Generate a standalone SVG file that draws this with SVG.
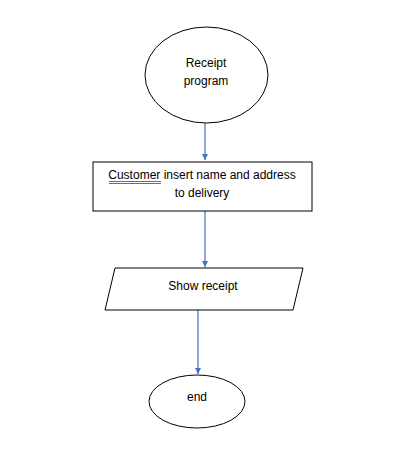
<svg xmlns="http://www.w3.org/2000/svg" width="401" height="453" viewBox="0 0 401 453">
<style>
.shape{fill:#fff;stroke:#000;stroke-width:1}
.t{font-family:"Liberation Sans",Arial,sans-serif;font-size:12px;fill:#000;text-anchor:middle}
.c{stroke:#4472C4;stroke-width:1.2;fill:none;marker-end:url(#ah)}
</style>
<defs>
<marker id="ah" markerWidth="8" markerHeight="8" refX="6" refY="3" orient="auto" markerUnits="userSpaceOnUse">
<path d="M0,0 L6,3 L0,6 Z" fill="#4472C4"/>
</marker>
</defs>
<rect width="401" height="453" fill="#fff"/>
<g id="connectors">
<line class="c" x1="205" y1="123" x2="205" y2="160"/>
<line class="c" x1="205" y1="211" x2="205" y2="267"/>
<line class="c" x1="198" y1="310" x2="198" y2="374"/>
</g>
<g id="start">
<ellipse class="shape" cx="206.5" cy="75" rx="61.5" ry="48"/>
<text class="t" x="206" y="67">Receipt</text>
<text class="t" x="206" y="85">program</text>
</g>
<g id="input">
<rect class="shape" x="93" y="162" width="219" height="49"/>
<text class="t" x="202" y="179">Customer insert name and address</text>
<text class="t" x="202" y="197">to delivery</text>
<line x1="109" y1="181.5" x2="161" y2="181.5" stroke="#4472C4" stroke-width="1"/>
<line x1="109" y1="183.5" x2="161" y2="183.5" stroke="#4472C4" stroke-width="1"/>
</g>
<g id="output">
<polygon class="shape" points="115,268 303,268 293,310 105,310"/>
<text class="t" x="203" y="290">Show receipt</text>
</g>
<g id="end">
<ellipse class="shape" cx="197" cy="401.5" rx="48" ry="26.5"/>
<text class="t" x="197" y="401">end</text>
</g>
</svg>
